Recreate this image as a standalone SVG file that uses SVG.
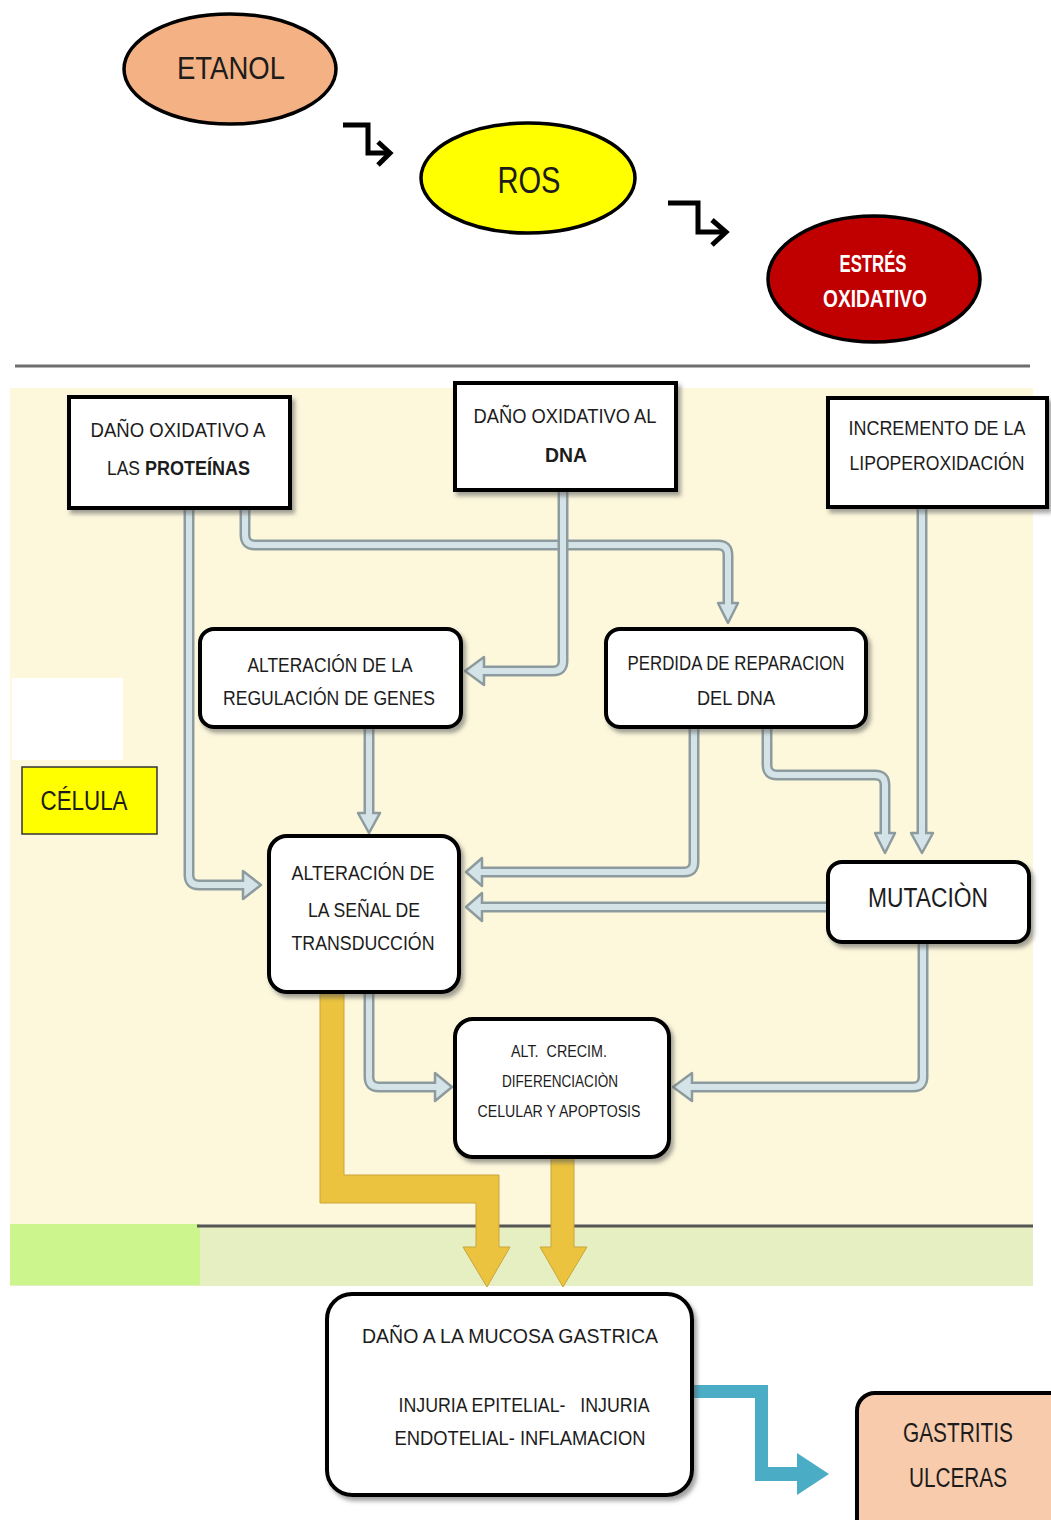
<svg xmlns="http://www.w3.org/2000/svg" width="1051" height="1520" viewBox="0 0 1051 1520">
<style>
text{font-family:"Liberation Sans Narrow","Liberation Sans",Arial,sans-serif;fill:#1c1c1c;text-anchor:middle}
.bx{fill:#fff;stroke:#000;stroke-width:4}
.el{stroke:#000;stroke-width:3.5}
.t20{font-size:20px}
.t16{font-size:16px}
.t27{font-size:27px}
.so{fill:none;stroke:#8d9b9f;stroke-width:11;stroke-linejoin:round}
.si{fill:none;stroke:#d4e3e7;stroke-width:6;stroke-linejoin:round}
.hd{fill:#d4e3e7;stroke:#8d9b9f;stroke-width:2.5;stroke-linejoin:round}
.zz{fill:none;stroke:#000;stroke-width:5}
.ya{fill:#ebc33f;stroke:#c9a53a;stroke-width:1}
</style>
<defs>
<filter id="sh" x="-10%" y="-10%" width="130%" height="130%">
<feDropShadow dx="3" dy="4" stdDeviation="2" flood-color="#555" flood-opacity="0.55"/>
</filter>
</defs>
<rect width="1051" height="1520" fill="#fff"/>
<line x1="15" y1="366" x2="1030" y2="366" stroke="#6e6e6e" stroke-width="3"/>
<rect x="10" y="388" width="1023" height="838" fill="#fdf8dc"/>
<rect x="10" y="1226" width="1023" height="60" fill="#e5efc1"/>
<rect x="10" y="1224" width="190" height="61" fill="#cdf58e"/>
<line x1="197" y1="1226" x2="1033" y2="1226" stroke="#555" stroke-width="3"/>
<rect x="12" y="678" width="111" height="82" fill="#fff"/>

<g id="etanol">
<ellipse class="el" cx="230" cy="69" rx="106" ry="55" fill="#f4b183"/>
<text x="231" y="79" font-size="32" textLength="108" lengthAdjust="spacingAndGlyphs">ETANOL</text>
</g>
<g id="ros">
<ellipse class="el" cx="528" cy="178" rx="107" ry="55" fill="#ffff00"/>
<text x="529" y="193" font-size="37" textLength="63" lengthAdjust="spacingAndGlyphs">ROS</text>
</g>
<g id="estres">
<ellipse class="el" cx="874" cy="279" rx="106" ry="63" fill="#c00000"/>
<text x="873" y="272" font-size="24" font-weight="bold" style="fill:#fff" textLength="67" lengthAdjust="spacingAndGlyphs">ESTRÉS</text>
<text x="875" y="307" font-size="24" font-weight="bold" style="fill:#fff" textLength="104" lengthAdjust="spacingAndGlyphs">OXIDATIVO</text>
</g>

<g id="connectors">
<path class="zz" d="M343 125 H368 V153 H387"/>
<path class="zz" d="M378 142 L390 153 L378 165"/>
<path class="zz" d="M668 203 H698 V232 H723"/>
<path class="zz" d="M712 220 L726 232 L712 245"/>

<g>
<path class="so" d="M189 508 V875 Q189 885 199 885 H243"/>
<polygon class="hd" points="243,871 261,885 243,899"/>
<path class="si" d="M189 508 V875 Q189 885 199 885 H246"/>
</g>
<g>
<path class="so" d="M245 508 V535 Q245 545 255 545 H718 Q728 545 728 555 V603"/>
<polygon class="hd" points="718,603 738,603 728,623"/>
<path class="si" d="M245 508 V535 Q245 545 255 545 H718 Q728 545 728 555 V606"/>
</g>
<g>
<path class="so" d="M563 490 V661 Q563 671 553 671 H484"/>
<polygon class="hd" points="484,657 484,685 465,671"/>
<path class="si" d="M563 490 V661 Q563 671 553 671 H481"/>
</g>
<g>
<path class="so" d="M922 507 V833"/>
<polygon class="hd" points="911,833 933,833 922,853"/>
<path class="si" d="M922 507 V836"/>
</g>
<g>
<path class="so" d="M767 727 V765 Q767 775 777 775 H875 Q885 775 885 785 V833"/>
<polygon class="hd" points="875,833 895,833 885,853"/>
<path class="si" d="M767 727 V765 Q767 775 777 775 H875 Q885 775 885 785 V836"/>
</g>
<g>
<path class="so" d="M694 727 V862 Q694 872 684 872 H482"/>
<polygon class="hd" points="482,858 482,886 466,872"/>
<path class="si" d="M694 727 V862 Q694 872 684 872 H479"/>
</g>
<g>
<path class="so" d="M828 907 H482"/>
<polygon class="hd" points="482,893 482,921 466,907"/>
<path class="si" d="M828 907 H479"/>
</g>
<g>
<path class="so" d="M369 727 V813"/>
<polygon class="hd" points="358,813 380,813 369,833"/>
<path class="si" d="M369 727 V816"/>
</g>
<g>
<path class="so" d="M369 992 V1077 Q369 1087 379 1087 H435"/>
<polygon class="hd" points="435,1073 435,1101 452,1087"/>
<path class="si" d="M369 992 V1077 Q369 1087 379 1087 H438"/>
</g>
<g>
<path class="so" d="M923 942 V1077 Q923 1087 913 1087 H692"/>
<polygon class="hd" points="692,1073 692,1101 673,1087"/>
<path class="si" d="M923 942 V1077 Q923 1087 913 1087 H689"/>
</g>

<polygon class="ya" points="320,992 344,992 344,1175 499,1175 499,1247 510,1247 487,1287 463,1247 476,1247 476,1203 320,1203"/>
<polygon class="ya" points="551,1157 574,1157 574,1247 587,1247 563,1287 540,1247 551,1247"/>
<polygon fill="#4bacc6" points="692,1385 768,1385 768,1467 797,1467 797,1453 829,1474 797,1495 797,1481 755,1481 755,1398 692,1398"/>
</g>

<g id="box-proteinas">
<rect class="bx" x="69" y="397" width="221" height="111" filter="url(#sh)"/>
<text class="t20" x="178" y="437" textLength="175" lengthAdjust="spacingAndGlyphs">DAÑO OXIDATIVO A</text>
<text class="t20" x="107" y="475" style="text-anchor:start" textLength="33" lengthAdjust="spacingAndGlyphs">LAS</text>
<text class="t20" x="145" y="475" font-weight="bold" style="text-anchor:start" textLength="105" lengthAdjust="spacingAndGlyphs">PROTEÍNAS</text>
</g>
<g id="box-dna">
<rect class="bx" x="455" y="383" width="221" height="107" filter="url(#sh)"/>
<text class="t20" x="565" y="423" textLength="183" lengthAdjust="spacingAndGlyphs">DAÑO OXIDATIVO AL</text>
<text class="t20" x="566" y="462" font-weight="bold" textLength="42" lengthAdjust="spacingAndGlyphs">DNA</text>
</g>
<g id="box-lipo">
<rect class="bx" x="828" y="398" width="219" height="109" filter="url(#sh)"/>
<text class="t20" x="937" y="435" textLength="177" lengthAdjust="spacingAndGlyphs">INCREMENTO DE LA</text>
<text class="t20" x="937" y="470" textLength="175" lengthAdjust="spacingAndGlyphs">LIPOPEROXIDACIÓN</text>
</g>
<g id="box-genes">
<rect class="bx" x="200" y="629" width="261" height="98" rx="14" filter="url(#sh)"/>
<text class="t20" x="330" y="672" textLength="165" lengthAdjust="spacingAndGlyphs">ALTERACIÓN DE LA</text>
<text class="t20" x="329" y="705" textLength="212" lengthAdjust="spacingAndGlyphs">REGULACIÓN DE GENES</text>
</g>
<g id="box-reparacion">
<rect class="bx" x="606" y="629" width="260" height="98" rx="14" filter="url(#sh)"/>
<text class="t20" x="736" y="670" textLength="217" lengthAdjust="spacingAndGlyphs">PERDIDA DE REPARACION</text>
<text class="t20" x="736" y="705" textLength="78" lengthAdjust="spacingAndGlyphs">DEL DNA</text>
</g>
<g id="box-senal">
<rect class="bx" x="269" y="836" width="190" height="156" rx="18" filter="url(#sh)"/>
<text class="t20" x="363" y="880" textLength="143" lengthAdjust="spacingAndGlyphs">ALTERACIÓN DE</text>
<text class="t20" x="364" y="917" textLength="112" lengthAdjust="spacingAndGlyphs">LA SEÑAL DE</text>
<text class="t20" x="363" y="950" textLength="143" lengthAdjust="spacingAndGlyphs">TRANSDUCCIÓN</text>
</g>
<g id="box-mutacion">
<rect class="bx" x="828" y="862" width="201" height="80" rx="14" filter="url(#sh)"/>
<text class="t27" x="928" y="907" textLength="120" lengthAdjust="spacingAndGlyphs">MUTACIÒN</text>
</g>
<g id="box-crecim">
<rect class="bx" x="455" y="1019" width="214" height="138" rx="18" filter="url(#sh)"/>
<text class="t16" x="559" y="1057" xml:space="preserve" textLength="96" lengthAdjust="spacingAndGlyphs">ALT.  CRECIM.</text>
<text class="t16" x="560" y="1087" textLength="116" lengthAdjust="spacingAndGlyphs">DIFERENCIACIÒN</text>
<text class="t16" x="559" y="1117" textLength="163" lengthAdjust="spacingAndGlyphs">CELULAR Y APOPTOSIS</text>
</g>
<g id="celula">
<rect x="22" y="767" width="135" height="67" fill="#ffff00" stroke="#333" stroke-width="1.5"/>
<text class="t27" x="84" y="810" textLength="87" lengthAdjust="spacingAndGlyphs">CÉLULA</text>
</g>
<g id="box-mucosa">
<rect class="bx" x="327" y="1294" width="365" height="201" rx="25" filter="url(#sh)"/>
<text class="t20" x="510" y="1343" textLength="296" lengthAdjust="spacingAndGlyphs">DAÑO A LA MUCOSA GASTRICA</text>
<text class="t20" x="524" y="1412" xml:space="preserve" textLength="251" lengthAdjust="spacingAndGlyphs">INJURIA EPITELIAL-   INJURIA</text>
<text class="t20" x="520" y="1445" textLength="251" lengthAdjust="spacingAndGlyphs">ENDOTELIAL- INFLAMACION</text>
</g>
<g id="box-gastritis">
<rect class="bx" x="857" y="1393" width="220" height="160" rx="18" style="fill:#f8cbad" filter="url(#sh)"/>
<text class="t27" x="958" y="1442" textLength="110" lengthAdjust="spacingAndGlyphs">GASTRITIS</text>
<text class="t27" x="958" y="1487" textLength="98" lengthAdjust="spacingAndGlyphs">ULCERAS</text>
</g>
</svg>
